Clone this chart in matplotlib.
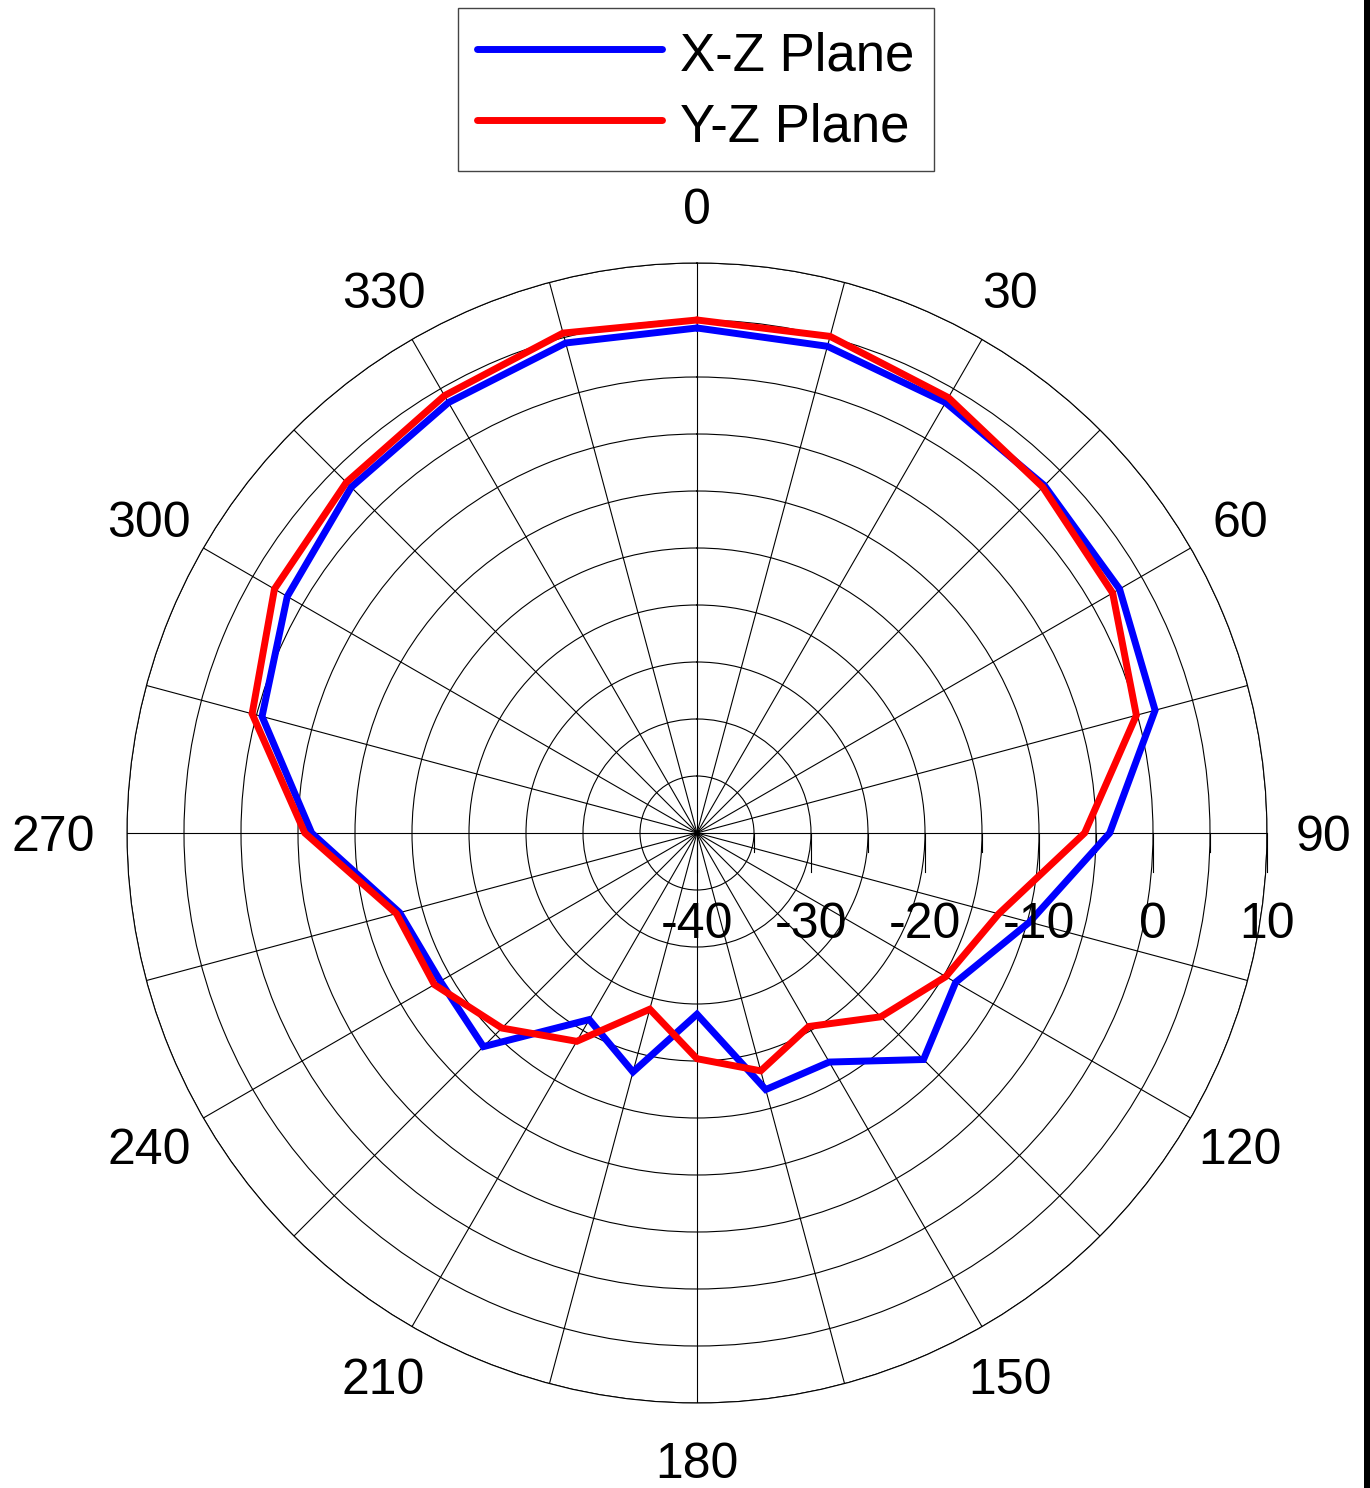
import numpy as np
import matplotlib
matplotlib.use('Agg')
import matplotlib.pyplot as plt
from matplotlib.lines import Line2D
from matplotlib.patches import Rectangle
from matplotlib.transforms import offset_copy

# ---------------- data ----------------
angles_deg = [0, 15, 30, 45, 60, 75, 90, 105, 120, 135, 150, 165,
              180, 195, 210, 225, 240, 255, 270, 285, 300, 315, 330, 345]
xz_plane = [4.3, 4.2, 3.6, 3.1, 2.8, 1.6, -3.8, -9.8, -13.8, -11.9, -16.8, -16.7,
            -24.1, -18.3, -21.1, -13.5, -14.0, -13.0, -6.2, -0.5, 1.5, 2.9, 3.6, 4.5]
yz_plane = [5.0, 5.1, 4.1, 2.9, 2.1, -0.1, -6.0, -12.6, -14.8, -17.2, -20.4, -18.4,
            -20.2, -24.0, -18.9, -15.8, -13.4, -12.7, -5.6, 0.4, 2.8, 3.5, 4.3, 5.4]
series_labels = ['X-Z Plane', 'Y-Z Plane']
series_colors = ['#0000FF', '#FF0000']

r_min, r_max = -40, 10
r_grid = [-35, -30, -25, -20, -15, -10, -5, 0, 5, 10]
r_tick_labels = [-40, -30, -20, -10, 0, 10]
theta_grid = list(range(0, 360, 15))
theta_tick_labels = list(range(0, 360, 30))

# ---------------- figure ----------------
W, H = 1370, 1488
plt.rcParams['font.family'] = ['Liberation Sans', 'DejaVu Sans']
fig = plt.figure(figsize=(W / 100, H / 100), dpi=100)
fig.patch.set_facecolor('white')

cx, cy, R = 697, 833, 570  # pixel geometry of the polar area
ax = fig.add_axes([(cx - R) / W, (H - cy - R) / H, 2 * R / W, 2 * R / H],
                  projection='polar')
ax.set_theta_zero_location('N')
ax.set_theta_direction(-1)
ax.set_rlim(r_min, r_max)
ax.set_rgrids(r_grid, labels=[''] * len(r_grid))
ax.set_thetagrids(theta_grid, labels=[''] * len(theta_grid))
ax.grid(True, color='black', linewidth=0.8)
ax.spines['polar'].set_linewidth(0.8)
ax.spines['polar'].set_color('black')
ax.tick_params(length=0)

fs = 36
fs_px = fs * 100 / 72.0

# data lines
handles = []
for vals, col, lab in zip([xz_plane, yz_plane], series_colors, series_labels):
    th = np.deg2rad(angles_deg + [angles_deg[0]])
    rv = vals + [vals[0]]
    ln, = ax.plot(th, rv, color=col, linewidth=5, label=lab,
                  solid_capstyle='round', solid_joinstyle='miter', zorder=5)
    handles.append(ln)

# angular labels (small horizontal nudges for the left-hand labels)
label_nudge_px = {240: -5, 270: -17, 300: -5}
for a in theta_tick_labels:
    tr = offset_copy(ax.transData, x=label_nudge_px.get(a, 0),
                     y=-0.358 * fs_px, units='dots')
    ax.text(np.deg2rad(a), r_max + 0.1 * (r_max - r_min), str(a),
            transform=tr, ha='center', va='baseline', fontsize=fs,
            clip_on=False, zorder=10)

# radial ticks along the 90-degree line and their labels
span = r_max - r_min
for v in r_grid + [r_min]:
    xa = 0.5 + 0.5 * (v - r_min) / span
    length = 39 if (v % 10 == 0) else 19
    ax.add_line(Line2D([xa, xa], [0.5, 0.5 - length / (2 * R)],
                       transform=ax.transAxes, color='black', linewidth=0.8,
                       clip_on=False, zorder=3))
for v in r_tick_labels:
    xa = 0.5 + 0.5 * (v - r_min) / span
    ya = 0.5 - (920 + 0.358 * fs_px - cy) / (2 * R)
    ax.text(xa, ya, str(v), transform=ax.transAxes, ha='center',
            va='baseline', fontsize=fs, clip_on=False, zorder=10)

# legend
leg = fig.legend(handles=handles, labels=series_labels, loc='upper left',
                 bbox_to_anchor=(458 / W, 1 - 8 / H), bbox_transform=fig.transFigure,
                 borderaxespad=0, frameon=True, fancybox=False, framealpha=1,
                 edgecolor='#444444', fontsize=38, handlelength=3.5,
                 handleheight=1.1, handletextpad=0.35, borderpad=0.36,
                 labelspacing=0.32)
leg.get_frame().set_linewidth(1.0)

# right border bar
fig.add_artist(Rectangle((1364 / W, 0), 6 / W, 1, transform=fig.transFigure,
                         facecolor='black', edgecolor='none'))

fig.savefig('out.png', dpi=100, facecolor='white')
